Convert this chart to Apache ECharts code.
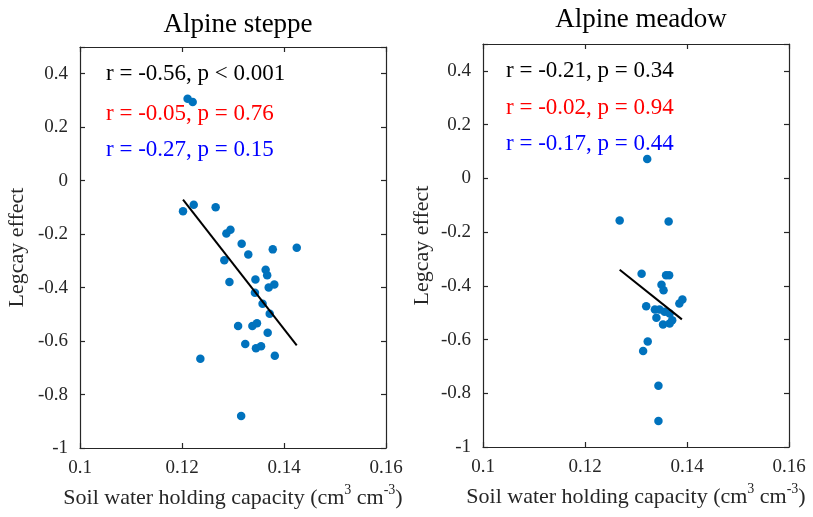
<!DOCTYPE html>
<html>
<head>
<meta charset="utf-8">
<script src="https://cdn.jsdelivr.net/npm/echarts@6/dist/echarts.min.js"></script>
<style>html,body{margin:0;padding:0;background:#fff;}#c{width:813px;height:517px;}</style>
</head>
<body>
<div id="c"></div>
<script>
// ---- data ----
const panelTitles = ['Alpine steppe', 'Alpine meadow'];
const xTickMin = 0.1, xTickMax = 0.16, xTickStep = 0.02;
const yTickMin = -1, yTickMax = 0.5, yTickStep = 0.2;

const steppeX = [0.1211,0.1221,0.1202,0.1223,0.1266,0.1287,0.1295,0.1317,0.1330,0.1378,0.1425,0.1283,0.1364,0.1367,0.1293,0.1344,0.1370,0.1381,0.1343,0.1358,0.1372,0.1310,0.1338,0.1347,0.1368,0.1324,0.1345,0.1355,0.1382,0.1236,0.1316];
const steppeY = [0.306,0.294,-0.114,-0.090,-0.099,-0.198,-0.184,-0.236,-0.276,-0.257,-0.251,-0.298,-0.333,-0.354,-0.379,-0.370,-0.400,-0.388,-0.419,-0.460,-0.498,-0.544,-0.544,-0.533,-0.569,-0.611,-0.627,-0.619,-0.655,-0.666,-0.880];
const steppeFitX = [0.1202, 0.1425];
const steppeFitY = [-0.071, -0.616];

const meadowX = [0.1322,0.1268,0.1364,0.1311,0.1359,0.1365,0.1350,0.1354,0.1385,0.1391,0.1320,0.1337,0.1346,0.1356,0.1366,0.1340,0.1353,0.1366,0.1371,0.1323,0.1314,0.1344,0.1344];
const meadowY = [0.072,-0.157,-0.161,-0.355,-0.361,-0.361,-0.396,-0.417,-0.466,-0.451,-0.476,-0.488,-0.488,-0.497,-0.503,-0.519,-0.544,-0.540,-0.528,-0.607,-0.643,-0.772,-0.903];
const meadowFitX = [0.1268, 0.1390];
const meadowFitY = [-0.340, -0.525];

const steppeStats = ['r = -0.56, p < 0.001', 'r = -0.05, p = 0.76', 'r = -0.27, p = 0.15'];
const meadowStats = ['r = -0.21, p = 0.34', 'r = -0.02, p = 0.94', 'r = -0.17, p = 0.44'];
const statColors = ['#000000', '#ff0000', '#0000ff'];

const xName = 'Soil water holding capacity (cm{sup|3} cm{sup|-3})';
const yName = 'Legcay effect';

// ---- chart ----
const FONT = '"Liberation Serif", "Times New Roman", serif';
const AX = '#262626';
const zip = (a, b) => a.map((v, i) => [v, b[i]]);

const grids = [
  {left: 80, top: 47, width: 306, height: 401},
  {left: 483, top: 44, width: 306, height: 403}
];

function xAxes(gi) {
  const base = {
    type: 'value', gridIndex: gi, min: xTickMin, max: xTickMax, interval: xTickStep,
    axisLine: {show: true, onZero: false, lineStyle: {color: AX, width: 1.2}},
    axisTick: {show: true, inside: true, length: 5, lineStyle: {color: AX, width: 1.2}},
    splitLine: {show: false}
  };
  return [
    Object.assign({}, base, {
      position: 'bottom',
      axisLabel: {show: true, margin: 11, fontFamily: FONT, fontSize: 19, color: AX},
      name: xName, nameLocation: 'middle', nameGap: 30,
      nameTextStyle: {fontFamily: FONT, fontSize: 22, color: AX,
        rich: {sup: {fontFamily: FONT, fontSize: 14, color: AX, verticalAlign: 'top', padding: [0, 0, 16, 0]}}}
    }),
    Object.assign({}, base, {position: 'top', axisLabel: {show: false}})
  ];
}
function yAxes(gi) {
  const base = {
    type: 'value', gridIndex: gi, min: yTickMin, max: yTickMax, interval: yTickStep,
    axisLine: {show: true, onZero: false, lineStyle: {color: AX, width: 1.2}},
    axisTick: {show: true, inside: true, length: 5, lineStyle: {color: AX, width: 1.2}},
    splitLine: {show: false}
  };
  return [
    Object.assign({}, base, {
      position: 'left',
      axisLabel: {show: true, margin: 12, fontFamily: FONT, fontSize: 19, color: AX,
        formatter: v => (Math.abs(v - yTickMax) < 1e-9 ? '' : String(+v.toFixed(2)))},
      name: yName, nameLocation: 'middle', nameGap: gi === 0 ? 52 : 50,
      nameTextStyle: {fontFamily: FONT, fontSize: 22, color: AX}
    }),
    Object.assign({}, base, {position: 'right', axisLabel: {show: false}})
  ];
}

const chart = echarts.init(document.getElementById('c'), null, {renderer: 'canvas'});

function scatter(xi, yi, xs, ys) {
  return {type: 'scatter', xAxisIndex: xi, yAxisIndex: yi, data: zip(xs, ys),
    symbol: 'circle', symbolSize: 8.5, itemStyle: {color: '#0072bd', opacity: 1}, silent: true, z: 3};
}
function fit(xi, yi, xs, ys) {
  return {type: 'line', xAxisIndex: xi, yAxisIndex: yi, data: zip(xs, ys), symbol: 'none',
    lineStyle: {color: '#000', width: 2}, silent: true, z: 4};
}

const statText = (stats, x, ys) => stats.map((s, i) => ({
  type: 'text', left: x, top: ys[i],
  style: {text: s, fill: statColors[i], font: '23px ' + FONT}
}));

chart.setOption({
  backgroundColor: '#fff',
  animation: false,
  title: [
    {text: panelTitles[0], left: 233, top: 6, textAlign: 'center',
     textStyle: {fontFamily: FONT, fontSize: 27, fontWeight: 'normal', color: '#000'}},
    {text: panelTitles[1], left: 636, top: 1, textAlign: 'center',
     textStyle: {fontFamily: FONT, fontSize: 27, fontWeight: 'normal', color: '#000'}}
  ],
  grid: grids,
  xAxis: xAxes(0).concat(xAxes(1)),
  yAxis: yAxes(0).concat(yAxes(1)),
  series: [
    scatter(0, 0, steppeX, steppeY),
    fit(0, 0, steppeFitX, steppeFitY),
    scatter(2, 2, meadowX, meadowY),
    fit(2, 2, meadowFitX, meadowFitY)
  ],
  graphic: statText(steppeStats, 106, [62, 102, 138]).concat(statText(meadowStats, 506, [59, 96, 132]))
});
</script>
</body>
</html>
